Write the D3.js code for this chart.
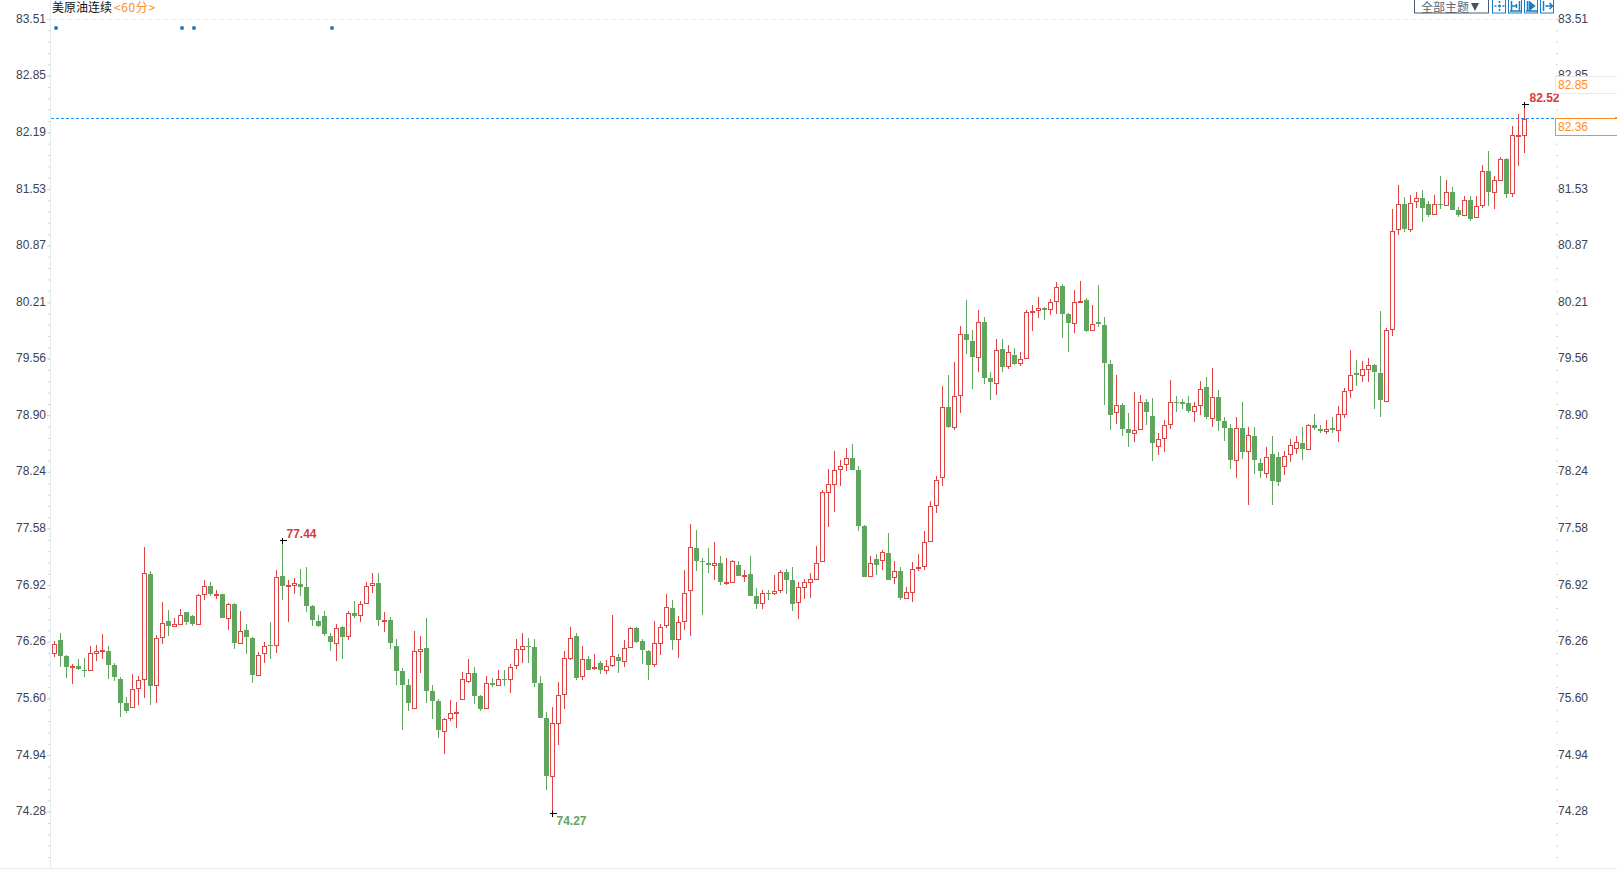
<!DOCTYPE html>
<html><head><meta charset="utf-8">
<script src="https://cdn.jsdelivr.net/npm/d3@7/dist/d3.min.js"></script>
<style>html,body{margin:0;padding:0;background:#fff;overflow:hidden}svg{display:block}text{font-family:"Liberation Sans",Arial,sans-serif}</style>
</head><body><div id="c"></div>
<script>
const tickLabels=["83.51","82.85","82.19","81.53","80.87","80.21","79.56","78.90","78.24","77.58","76.92","76.26","75.60","74.94","74.28"];
const hiddenRightLabels=["82.19"];
const eventIndex=[0,21,23,46];
const highs=[76.27,76.36,76.10,76.00,76.06,76.07,76.21,76.22,76.35,76.21,
76.01,75.85,75.62,75.88,75.86,77.36,77.08,76.34,76.72,76.63,
76.53,76.64,76.60,76.57,76.82,76.98,76.96,76.86,76.82,76.71,
76.71,76.62,76.47,76.31,76.14,76.26,76.49,77.09,77.44,76.98,
77.00,77.11,77.13,76.69,76.57,76.62,76.36,76.46,76.44,76.62,
76.73,76.73,76.96,77.06,77.06,76.60,76.55,76.29,75.95,75.82,
76.38,76.33,76.54,75.75,75.59,75.37,75.58,75.56,75.91,76.06,
75.97,75.64,75.86,75.84,75.93,75.93,76.00,76.29,76.36,76.30,
76.29,75.86,75.44,75.50,75.79,76.15,76.43,76.36,76.21,76.09,
76.12,76.03,76.05,76.57,76.12,76.28,76.43,76.43,76.29,76.16,
76.50,76.47,76.82,76.75,76.56,77.09,77.63,77.56,77.23,77.35,
77.42,77.26,77.23,77.21,77.20,77.10,77.26,76.89,76.86,76.86,
77.04,77.10,77.11,77.13,76.95,76.99,77.06,77.37,78.03,78.27,
78.48,78.38,78.52,78.56,78.31,77.62,77.26,77.28,77.33,77.53,
77.20,77.13,76.90,77.19,77.28,77.55,77.90,78.19,79.24,79.37,
79.52,79.94,80.24,79.89,80.12,80.04,79.40,79.78,79.78,79.71,
79.68,79.63,80.12,80.18,80.27,80.16,80.25,80.45,80.42,80.09,
80.35,80.46,80.26,80.18,80.41,80.04,79.54,79.37,79.04,78.92,
79.17,79.13,79.09,79.10,78.69,78.84,79.31,79.12,79.08,79.12,
79.05,79.30,79.34,79.45,79.19,78.87,78.79,78.88,79.05,78.76,
78.76,78.40,78.53,78.66,78.47,78.48,78.62,78.66,78.76,78.80,
78.91,78.78,78.84,78.87,79.00,79.21,79.66,79.54,79.53,79.56,
79.49,80.11,79.91,81.30,81.58,81.44,81.46,81.50,81.52,81.39,
81.46,81.68,81.64,81.55,81.32,81.45,81.45,81.45,81.81,81.97,
81.68,81.90,81.89,82.26,82.40,82.52];
const lows=[76.08,75.96,75.84,75.77,75.93,75.85,75.92,76.03,76.06,75.82,
75.80,75.38,75.43,75.49,75.52,75.60,75.52,75.55,76.23,76.33,
76.44,76.47,76.45,76.44,76.47,76.75,76.79,76.76,76.54,76.40,
76.18,76.24,76.12,75.78,75.87,76.01,76.06,76.13,76.74,76.49,
76.81,76.79,76.60,76.44,76.43,76.32,76.15,76.04,76.06,76.28,
76.54,76.49,76.71,76.83,76.44,76.37,76.18,75.76,75.23,75.45,
75.47,75.90,75.55,75.36,75.14,74.95,75.34,75.25,75.59,75.78,
75.53,75.45,75.49,75.73,75.74,75.74,75.66,75.94,76.01,76.01,
75.73,75.37,74.53,74.27,75.06,75.48,76.05,75.81,75.81,75.93,
75.93,75.88,75.88,75.97,75.90,75.96,76.20,76.24,76.00,75.81,
75.96,76.10,76.42,76.16,76.07,76.40,76.32,77.08,76.57,77.06,
76.98,76.92,76.92,76.96,77.02,76.95,76.79,76.64,76.64,76.74,
76.80,76.83,76.82,76.62,76.52,76.76,76.77,76.99,77.20,77.59,
77.77,78.07,78.25,78.26,77.55,77.01,77.01,77.04,77.10,76.98,
76.93,76.75,76.76,76.72,77.08,77.10,77.43,77.76,78.07,78.75,
78.73,78.92,79.61,79.20,79.40,79.26,79.07,79.13,79.40,79.43,
79.48,79.47,79.56,79.88,80.03,80.01,80.06,80.08,79.79,79.63,
79.85,80.20,79.87,79.89,79.92,79.01,78.72,78.79,78.65,78.53,
78.58,78.73,78.78,78.36,78.43,78.47,78.74,78.93,78.97,78.92,
78.82,78.90,78.85,78.76,78.71,78.60,78.27,78.17,78.39,77.85,
78.21,78.17,78.17,77.85,78.07,78.20,78.35,78.45,78.37,78.49,
78.73,78.69,78.68,78.69,78.59,78.86,79.10,79.24,79.28,79.28,
78.97,78.88,79.06,79.82,81.00,81.03,81.03,81.31,81.15,81.20,
81.24,81.30,81.35,81.29,81.20,81.23,81.16,81.19,81.31,81.33,
81.30,81.64,81.43,81.44,81.80,81.95];
const opens=[76.13,76.28,76.09,75.97,75.98,75.93,75.93,76.13,76.15,76.15,
75.99,75.83,75.54,75.50,75.72,75.82,77.05,75.75,76.31,76.50,
76.44,76.47,76.60,76.56,76.47,76.82,76.91,76.81,76.82,76.54,
76.70,76.24,76.39,76.30,75.87,76.13,76.22,76.22,77.03,76.91,
76.92,76.93,76.90,76.67,76.50,76.56,76.33,76.24,76.43,76.33,
76.59,76.57,76.71,76.92,76.94,76.51,76.51,76.21,75.92,75.76,
75.49,76.15,76.19,75.68,75.57,75.22,75.37,75.43,75.59,75.80,
75.89,75.63,75.49,75.78,75.75,75.83,75.82,75.99,76.17,76.21,
76.20,75.78,75.37,74.69,75.31,75.65,76.07,76.33,75.86,76.06,
75.95,76.01,75.93,75.99,76.08,76.03,76.20,76.42,76.27,76.15,
76.00,76.25,76.45,76.65,76.29,76.50,76.86,77.35,77.20,77.18,
77.15,77.17,76.95,76.96,77.15,77.02,77.05,76.79,76.71,76.83,
76.83,76.86,77.07,76.98,76.72,76.90,76.96,76.99,77.20,78.00,
78.10,78.27,78.33,78.40,78.26,77.61,77.03,77.22,77.21,77.29,
77.01,77.08,76.77,76.84,77.12,77.14,77.43,77.85,78.18,78.99,
78.76,79.13,79.84,79.76,79.58,79.98,79.33,79.27,79.67,79.47,
79.60,79.50,79.56,80.10,80.12,80.14,80.13,80.23,80.40,80.07,
79.97,80.22,80.24,79.89,79.98,79.95,79.49,78.93,79.02,78.74,
78.69,78.74,79.05,78.89,78.54,78.63,78.79,79.05,79.05,79.04,
78.94,79.01,79.23,78.86,79.11,78.83,78.75,78.38,78.75,78.48,
78.66,78.34,78.22,78.44,78.41,78.30,78.45,78.51,78.57,78.50,
78.78,78.74,78.71,78.75,78.73,78.91,79.19,79.39,79.37,79.44,
79.48,79.39,79.06,79.90,81.06,81.36,81.07,81.39,81.42,81.36,
81.24,81.36,81.35,81.50,81.29,81.23,81.40,81.21,81.35,81.74,
81.50,81.64,81.88,81.48,82.15,82.16];
const closes=[76.23,76.09,75.97,75.98,75.94,75.92,76.13,76.15,76.16,75.99,
75.85,75.55,75.45,75.71,75.81,77.06,75.74,76.30,76.48,76.44,
76.46,76.57,76.49,76.46,76.80,76.91,76.81,76.82,76.54,76.70,
76.24,76.38,76.31,75.87,76.11,76.21,76.21,77.01,76.91,76.92,
76.94,76.90,76.67,76.51,76.44,76.35,76.26,76.42,76.31,76.59,
76.56,76.70,76.91,76.94,76.51,76.51,76.24,75.92,75.76,75.54,
76.15,76.18,75.68,75.57,75.23,75.36,75.43,75.44,75.82,75.89,
75.63,75.48,75.78,75.75,75.82,75.82,75.97,76.17,76.21,76.20,
75.78,75.37,74.69,75.31,75.64,76.07,76.30,75.84,76.06,75.93,
75.97,75.93,75.98,76.09,76.03,76.19,76.42,76.26,76.16,75.99,
76.25,76.43,76.66,76.28,76.49,76.83,77.36,77.20,77.19,77.15,
77.17,76.96,76.96,77.20,77.02,77.04,76.79,76.70,76.83,76.82,
76.85,77.07,76.98,76.70,76.90,76.95,76.99,77.18,78.00,78.10,
78.26,78.30,78.40,78.26,77.61,77.01,77.17,77.15,77.30,76.98,
77.08,76.77,76.84,77.11,77.13,77.42,77.84,78.14,78.99,78.76,
79.12,79.84,79.77,79.58,79.98,79.33,79.28,79.66,79.46,79.63,
79.49,79.55,80.10,80.11,80.14,80.12,80.22,80.39,80.08,79.97,
80.21,80.23,79.88,79.96,79.96,79.50,78.90,79.02,78.74,78.69,
78.73,79.05,78.93,78.57,78.62,78.78,79.05,79.04,79.03,78.94,
79.00,79.20,78.87,79.11,78.83,78.75,78.38,78.75,78.47,78.67,
78.37,78.25,78.41,78.13,78.12,78.42,78.55,78.59,78.50,78.78,
78.75,78.71,78.74,78.73,78.91,79.18,79.37,79.37,79.43,79.48,
79.40,79.07,79.89,81.04,81.36,81.07,81.37,81.42,81.31,81.23,
81.36,81.35,81.49,81.29,81.23,81.40,81.18,81.33,81.74,81.49,
81.63,81.88,81.47,82.16,82.16,82.34];
const lastPrice=82.36, prevClose=82.85;

const W=1617,H=869,RED="#e04343",GREEN="#60a65f",ORANGE="#ff8c1e",BLUE="#1a7cc7";
const svg=d3.select("#c").append("svg").attr("width",W).attr("height",H);
const x=d3.scaleLinear().domain([0,245]).range([54.5,1524.5]);
const y=d3.scaleLinear().domain([74.28,83.51]).range([811.7,19]);
const py=v=>Math.round(y(v))+.5;
const tickVals=tickLabels.map(Number);
const step=(tickVals[0]-tickVals[tickVals.length-1])/(tickVals.length-1)/5;
const minor=d3.range(0,76).map(i=>tickVals[0]-i*step).filter(v=>y(v)<H-3);

// frame
svg.append("line").attr("x1",50.5).attr("x2",50.5).attr("y1",0).attr("y2",H).attr("stroke","#e3edf1");
svg.append("line").attr("x1",0).attr("x2",W).attr("y1",868.5).attr("y2",868.5).attr("stroke","#e6eaee");
svg.append("line").attr("x1",51).attr("x2",1556).attr("y1",py(83.51)).attr("y2",py(83.51)).attr("stroke","#eeeeee").attr("stroke-dasharray","5,3");

// axes
function styleAxis(g){g.select(".domain").remove();g.selectAll("text").attr("fill","#3a4256").attr("font-size",12).attr("y",-1).attr("dy","0.35em");}
svg.append("g").attr("transform","translate(50,0)")
 .call(d3.axisLeft(y).tickValues(minor).tickSize(2).tickFormat(""))
 .call(g=>{g.select(".domain").remove();g.selectAll("line").attr("stroke","#cfd6da");});
svg.append("g").attr("transform","translate(50,0)")
 .call(d3.axisLeft(y).tickValues(tickVals).tickSize(3).tickPadding(1).tickFormat(d=>d.toFixed(2)))
 .call(styleAxis).call(g=>g.selectAll("line").attr("stroke","#bcdcee"));
svg.append("g").attr("transform","translate(1556,0)")
 .call(d3.axisRight(y).tickValues(minor).tickSize(2).tickFormat(""))
 .call(g=>{g.select(".domain").remove();g.selectAll("line").attr("stroke","#cfd6da");});
svg.append("g").attr("transform","translate(1556,0)")
 .call(d3.axisRight(y).tickValues(tickVals.filter(v=>!hiddenRightLabels.includes(v.toFixed(2)))).tickSize(0).tickPadding(2).tickFormat(d=>d.toFixed(2)))
 .call(styleAxis);

// event markers
svg.selectAll("circle.ev").data(eventIndex).join("circle").attr("class","ev")
 .attr("cx",d=>x(d)+1.5).attr("cy",28).attr("r",2).attr("fill",BLUE);

// last price line
svg.append("line").attr("x1",51).attr("x2",1555).attr("y1",118.5).attr("y2",118.5)
 .attr("stroke","#1e90ff").attr("stroke-dasharray","3,2");

// candles
const idx=d3.range(highs.length);
const cg=svg.append("g").attr("shape-rendering","crispEdges");
const c=cg.selectAll("g").data(idx).join("g");
const isUp=i=>closes[i]>=opens[i];
c.append("line").attr("x1",i=>x(i)).attr("x2",i=>x(i)).attr("y1",i=>Math.round(y(highs[i]))).attr("y2",i=>Math.round(y(lows[i])))
 .attr("stroke",i=>isUp(i)?RED:GREEN);
c.append("rect").attr("x",i=>isUp(i)?x(i)-2:x(i)-2.5)
 .attr("y",i=>{const t=Math.max(opens[i],closes[i]);return isUp(i)?py(t):Math.round(y(t));})
 .attr("width",i=>isUp(i)?4:5)
 .attr("height",i=>Math.max(1,Math.round(y(Math.min(opens[i],closes[i])))-Math.round(y(Math.max(opens[i],closes[i])))))
 .attr("fill",i=>isUp(i)?"#fff":GREEN).attr("stroke",i=>isUp(i)?RED:"none");

// extreme markers
function extreme(i,v,col,dx,dy){
 const px=x(i),pyy=Math.round(y(v))+.5;
 svg.append("path").attr("d",`M${px-3},${pyy}H${px+4}M${px},${pyy-3}V${pyy+3}`).attr("stroke","#000").attr("shape-rendering","crispEdges");
 svg.append("text").attr("x",px+dx).attr("y",pyy+dy).attr("fill",col).attr("font-size",12).attr("font-weight","bold").text(v.toFixed(2));
}
extreme(38,77.44,"#d33c3c",4,-3);
extreme(83,74.27,GREEN,4,11);
extreme(245,82.52,"#d33c3c",5,-3);

// price boxes
svg.append("rect").attr("x",1555.5).attr("y",76.5).attr("width",70).attr("height",17).attr("fill","#fff").attr("stroke","#e8e8e8");
svg.append("text").attr("x",1558).attr("y",89).attr("fill",ORANGE).attr("font-size",12).text(prevClose.toFixed(2));
svg.append("rect").attr("x",1555.5).attr("y",118.5).attr("width",70).attr("height",17).attr("fill","#fff").attr("stroke",ORANGE);
svg.append("text").attr("x",1558).attr("y",131).attr("fill",ORANGE).attr("font-size",12).text(lastPrice.toFixed(2));
svg.append("line").attr("x1",1615).attr("x2",1617).attr("y1",117.5).attr("y2",117.5).attr("stroke",ORANGE);

// title
const cjk='"Noto Sans CJK SC",sans-serif';
svg.append("text").attr("x",52).attr("y",12).attr("font-size",12).attr("fill","#111").style("font-family",cjk).text("美原油连续");
svg.append("text").attr("x",114).attr("y",12).attr("font-size",12).attr("letter-spacing",0.6).attr("fill",ORANGE).style("font-family",cjk).text("<60分>");

// toolbar
svg.append("rect").attr("x",1414.5).attr("y",-2).attr("width",74).attr("height",15).attr("fill","#fff").attr("stroke","#4b5a6e");
svg.append("text").attr("x",1421).attr("y",11.5).attr("font-size",12).attr("fill","#5a6676").style("font-family",cjk).text("全部主题");
svg.append("path").attr("d","M1471,3H1479L1475,11Z").attr("fill","#46525f");
const iconPaths=[
 "M7,2V4M7,5.5V8.5M7,10V12M2,7H4M5.5,7H8.5M10,7H12",
 "M3,2V12M3,7H8M11,2V12M8,5V9M1.5,12H12.5",
 "M3,2V12M5,3L10,7L5,11ZM1.5,12H12.5",
 "M3,2V12M5,7H12M9,4L12,7L9,10"];
iconPaths.forEach((d,i)=>{
 const g=svg.append("g").attr("transform",`translate(${1492.5+16*i},-1)`);
 g.append("rect").attr("width",13).attr("height",14).attr("fill","#fff").attr("stroke",BLUE);
 g.append("path").attr("d",d).attr("fill",i==2?BLUE:"none").attr("stroke",BLUE).attr("stroke-width",1.5);
});
</script></body></html>
